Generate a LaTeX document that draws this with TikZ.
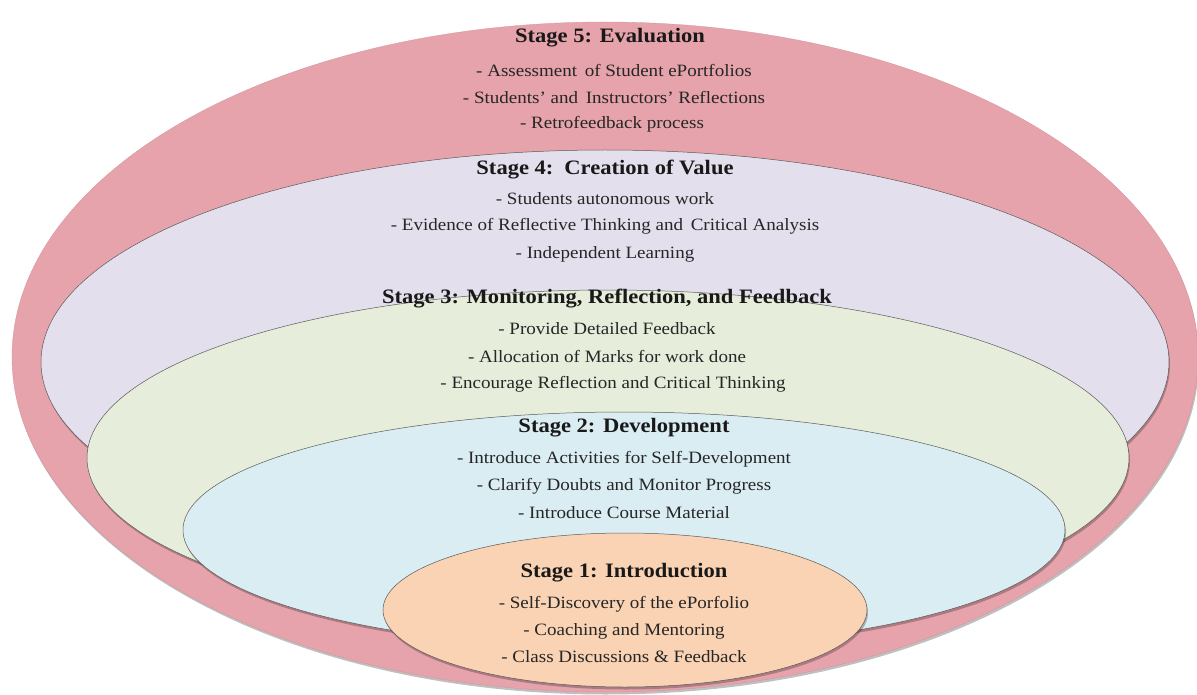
\documentclass[tikz,border=0pt]{standalone}
\usepackage{fontspec}
\setmainfont[FakeStretch=1.1]{Liberation Serif}
\usetikzlibrary{shapes.geometric,shadows}
\definecolor{c5}{HTML}{E6A3AB}
\definecolor{c4}{HTML}{E4DFEC}
\definecolor{c3}{HTML}{E6EDDB}
\definecolor{c2}{HTML}{DAEDF3}
\definecolor{c1}{HTML}{F9D3B4}
\definecolor{edge}{HTML}{5A5A5A}
\tikzset{
  layer/.style={ellipse, inner sep=0pt, draw=edge, line width=0.5pt,
    drop shadow={shadow xshift=1pt, shadow yshift=-2.5pt, opacity=0.25, fill=black}},
  outer/.style={ellipse, inner sep=0pt, draw=c5!90!black, line width=0.3pt,
    drop shadow={shadow xshift=1pt, shadow yshift=-2.5pt, opacity=0.25, fill=black}},
  head/.style={font=\fontsize{20.5}{22}\selectfont\bfseries, text=black!90, inner sep=0pt},
  item/.style={font=\fontsize{17.3}{19}\selectfont, text=black!85, inner sep=0pt}
}
\begin{document}
\begin{tikzpicture}[x=1pt,y=-1pt]
\useasboundingbox (0,0) rectangle (1197,695);
\node[outer, fill=c5, minimum width=1186pt, minimum height=670pt] (e5) at (605,357) {};
\node[layer, fill=c4, minimum width=1128pt, minimum height=424pt] (e4) at (605,362) {};
\node[layer, fill=c3, minimum width=1042pt, minimum height=336pt] (e3) at (608,458) {};
\node[layer, fill=c2, minimum width=882pt, minimum height=236pt] (e2) at (624,530) {};
\node[layer, fill=c1, minimum width=484pt, minimum height=154pt] (e1) at (625,610) {};

\node[head] (h5) at (610,38) {Stage 5: Evaluation};
\node[item] (t51) at (614,70) {- Assessment\, of Student ePortfolios};
\node[item] (t52) at (614,97) {- Students' and\, Instructors' Reflections};
\node[item] (t53) at (612,124) {- Retrofeedback process};

\node[head] (h4) at (605,170) {Stage 4:\, Creation of Value};
\node[item] (t41) at (605,199) {- Students autonomous work};
\node[item] (t42) at (605,226) {- Evidence of Reflective Thinking and\, Critical Analysis};
\node[item] (t43) at (605,254) {- Independent Learning};

\node[head] (h3) at (607,299) {Stage 3: Monitoring, Reflection, and Feedback};
\node[item] (t31) at (607,329) {- Provide Detailed Feedback};
\node[item] (t32) at (607,356) {- Allocation of Marks for work done};
\node[item] (t33) at (613,384) {- Encourage Reflection and Critical Thinking};

\node[head] (h2) at (624,428) {Stage 2: Development};
\node[item] (t21) at (624,459) {- Introduce Activities for Self-Development};
\node[item] (t22) at (624,486) {- Clarify Doubts and Monitor Progress};
\node[item] (t23) at (624,513) {- Introduce Course Material};

\node[head] (h1) at (624,573) {Stage 1: Introduction};
\node[item] (t11) at (624,604) {- Self-Discovery of the ePorfolio};
\node[item] (t12) at (624,631) {- Coaching and Mentoring};
\node[item] (t13) at (624,657) {- Class Discussions \& Feedback};
\end{tikzpicture}
\end{document}
